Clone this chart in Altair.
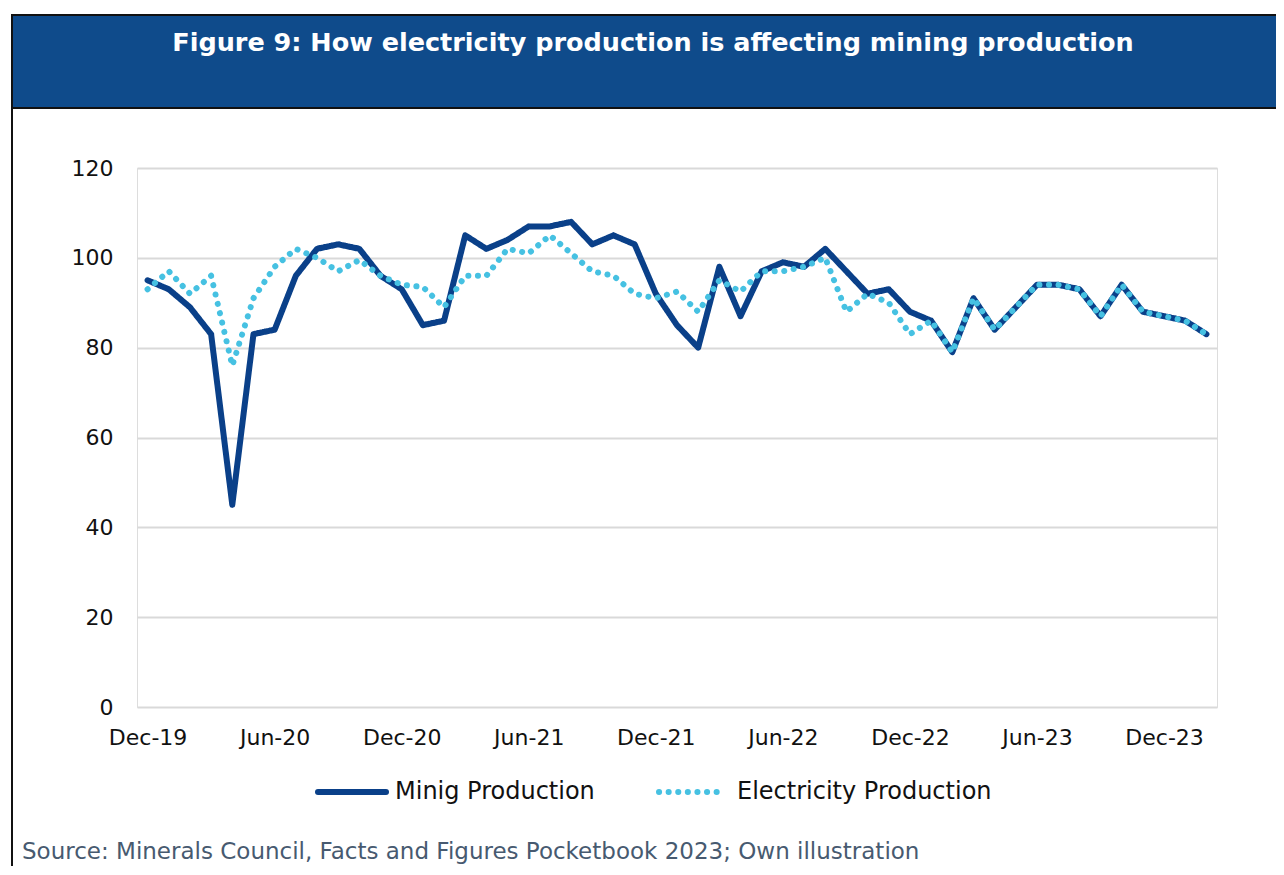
import altair as alt
import pandas as pd

months = ["Dec-19","Jan-20","Feb-20","Mar-20","Apr-20","May-20","Jun-20","Jul-20","Aug-20","Sep-20","Oct-20","Nov-20",
          "Dec-20","Jan-21","Feb-21","Mar-21","Apr-21","May-21","Jun-21","Jul-21","Aug-21","Sep-21","Oct-21","Nov-21",
          "Dec-21","Jan-22","Feb-22","Mar-22","Apr-22","May-22","Jun-22","Jul-22","Aug-22","Sep-22","Oct-22","Nov-22",
          "Dec-22","Jan-23","Feb-23","Mar-23","Apr-23","May-23","Jun-23","Jul-23","Aug-23","Sep-23","Oct-23","Nov-23",
          "Dec-23","Jan-24","Feb-24"]

mining = [95, 93, 89, 83, 45, 83, 84, 96, 102, 103, 102, 96,
          93, 85, 86, 105, 102, 104, 107, 107, 108, 103, 105, 103,
          92, 85, 80, 98, 87, 97, 99, 98, 102, 97, 92, 93,
          88, 86, 79, 91, 84, 89, 94, 94, 93, 87, 94, 88,
          87, 86, 83]

electricity = [93, 97, 92, 96, 76, 91, 98, 102, 100, 97, 99.5, 96,
               94, 93.5, 89, 96, 96, 102, 101, 105, 101, 97, 96, 92,
               91, 92.5, 88, 95, 92.5, 97, 97, 98, 100, 88, 92, 90,
               83, 86, 79, 91, 84, 89, 94, 94, 93, 87, 94, 88,
               87, 86, 83]

tick_labels = ["Dec-19","Jun-20","Dec-20","Jun-21","Dec-21","Jun-22","Dec-22","Jun-23","Dec-23"]
series_names = ["Minig Production", "Electricity Production"]
series_colors = ["#0a4089", "#46c1e2"]

title_text = "Figure 9: How electricity production is affecting mining production"
source_text = "Source: Minerals Council, Facts and Figures Pocketbook 2023; Own illustration"

rows = []
for i, m in enumerate(months):
    rows.append({"month": m, "idx": i, "value": mining[i], "series": series_names[0]})
for i, m in enumerate(months):
    rows.append({"month": m, "idx": i, "value": electricity[i], "series": series_names[1]})
df = pd.DataFrame(rows)

FONT = "DejaVu Sans"
W, H = 1080, 539
dummy = pd.DataFrame({"a": [0]})
DOT = [0.1, 9.5]

lines = alt.Chart(df).mark_line(strokeCap="round", strokeJoin="round", strokeWidth=6, clip=False).encode(
    x=alt.X("month:O", sort=months,
            scale=alt.Scale(type="point", padding=0.5),
            axis=alt.Axis(values=tick_labels, title=None, labelAngle=0, ticks=False, domain=False,
                          labelFont=FONT, labelFontSize=22, labelColor="#111111", labelPadding=20,
                          grid=False)),
    y=alt.Y("value:Q", scale=alt.Scale(domain=[0, 120], nice=False),
            axis=alt.Axis(values=[0, 20, 40, 60, 80, 100, 120], title=None, ticks=False, domain=False,
                          labelFont=FONT, labelFontSize=22, labelColor="#111111", labelPadding=24,
                          grid=True, gridColor="#d9d9d9", gridWidth=2)),
    color=alt.Color("series:N", scale=alt.Scale(domain=series_names, range=series_colors), legend=None),
    strokeDash=alt.StrokeDash("series:N", scale=alt.Scale(domain=series_names, range=[[1, 0], DOT]),
                              legend=None),
    order=alt.Order("idx:Q"),
    detail="series:N",
)

# manual legend (layout decoration)
leg_mine_sym = alt.Chart(dummy).mark_rule(color=series_colors[0], strokeWidth=6, strokeCap="round").encode(
    x=alt.value(181), x2=alt.value(249), y=alt.value(624))
leg_elec_sym = alt.Chart(dummy).mark_rule(color=series_colors[1], strokeWidth=6, strokeCap="round",
                                          strokeDash=DOT).encode(
    x=alt.value(522), x2=alt.value(586), y=alt.value(624))
leg_mine_txt = alt.Chart(dummy).mark_text(text=series_names[0], font=FONT, fontSize=24, color="#111111",
                                          align="left", baseline="middle").encode(
    x=alt.value(258), y=alt.value(624))
leg_elec_txt = alt.Chart(dummy).mark_text(text=series_names[1], font=FONT, fontSize=24, color="#111111",
                                          align="left", baseline="middle").encode(
    x=alt.value(600), y=alt.value(624))

banner = alt.Chart(dummy).mark_rect(color="#0f4b8b", stroke="#111111", strokeWidth=2).encode(
    x=alt.value(-125), x2=alt.value(1160), y=alt.value(-153), y2=alt.value(-60))

left_border = alt.Chart(dummy).mark_rule(color="#111111", strokeWidth=2).encode(
    x=alt.value(-125), y=alt.value(-153), y2=alt.value(720))

title = alt.Chart(dummy).mark_text(text=title_text, font=FONT, fontSize=25.5, fontWeight="bold",
                                   color="white", align="center", baseline="middle").encode(
    x=alt.value(516), y=alt.value(-125))

source = alt.Chart(dummy).mark_text(text=source_text, font=FONT, fontSize=23, color="#475a70",
                                    align="left", baseline="alphabetic").encode(
    x=alt.value(-115), y=alt.value(691))

chart = alt.layer(banner, left_border, title, source, lines,
                  leg_mine_sym, leg_elec_sym, leg_mine_txt, leg_elec_txt).properties(
    width=W, height=H,
    autosize=alt.AutoSizeParams(type="none"),
    padding={"left": 129, "top": 160, "right": 59, "bottom": 159},
).configure_view(stroke=None).configure(background="white")

chart.save("out.html", embed_options={"renderer": "svg", "actions": False})
